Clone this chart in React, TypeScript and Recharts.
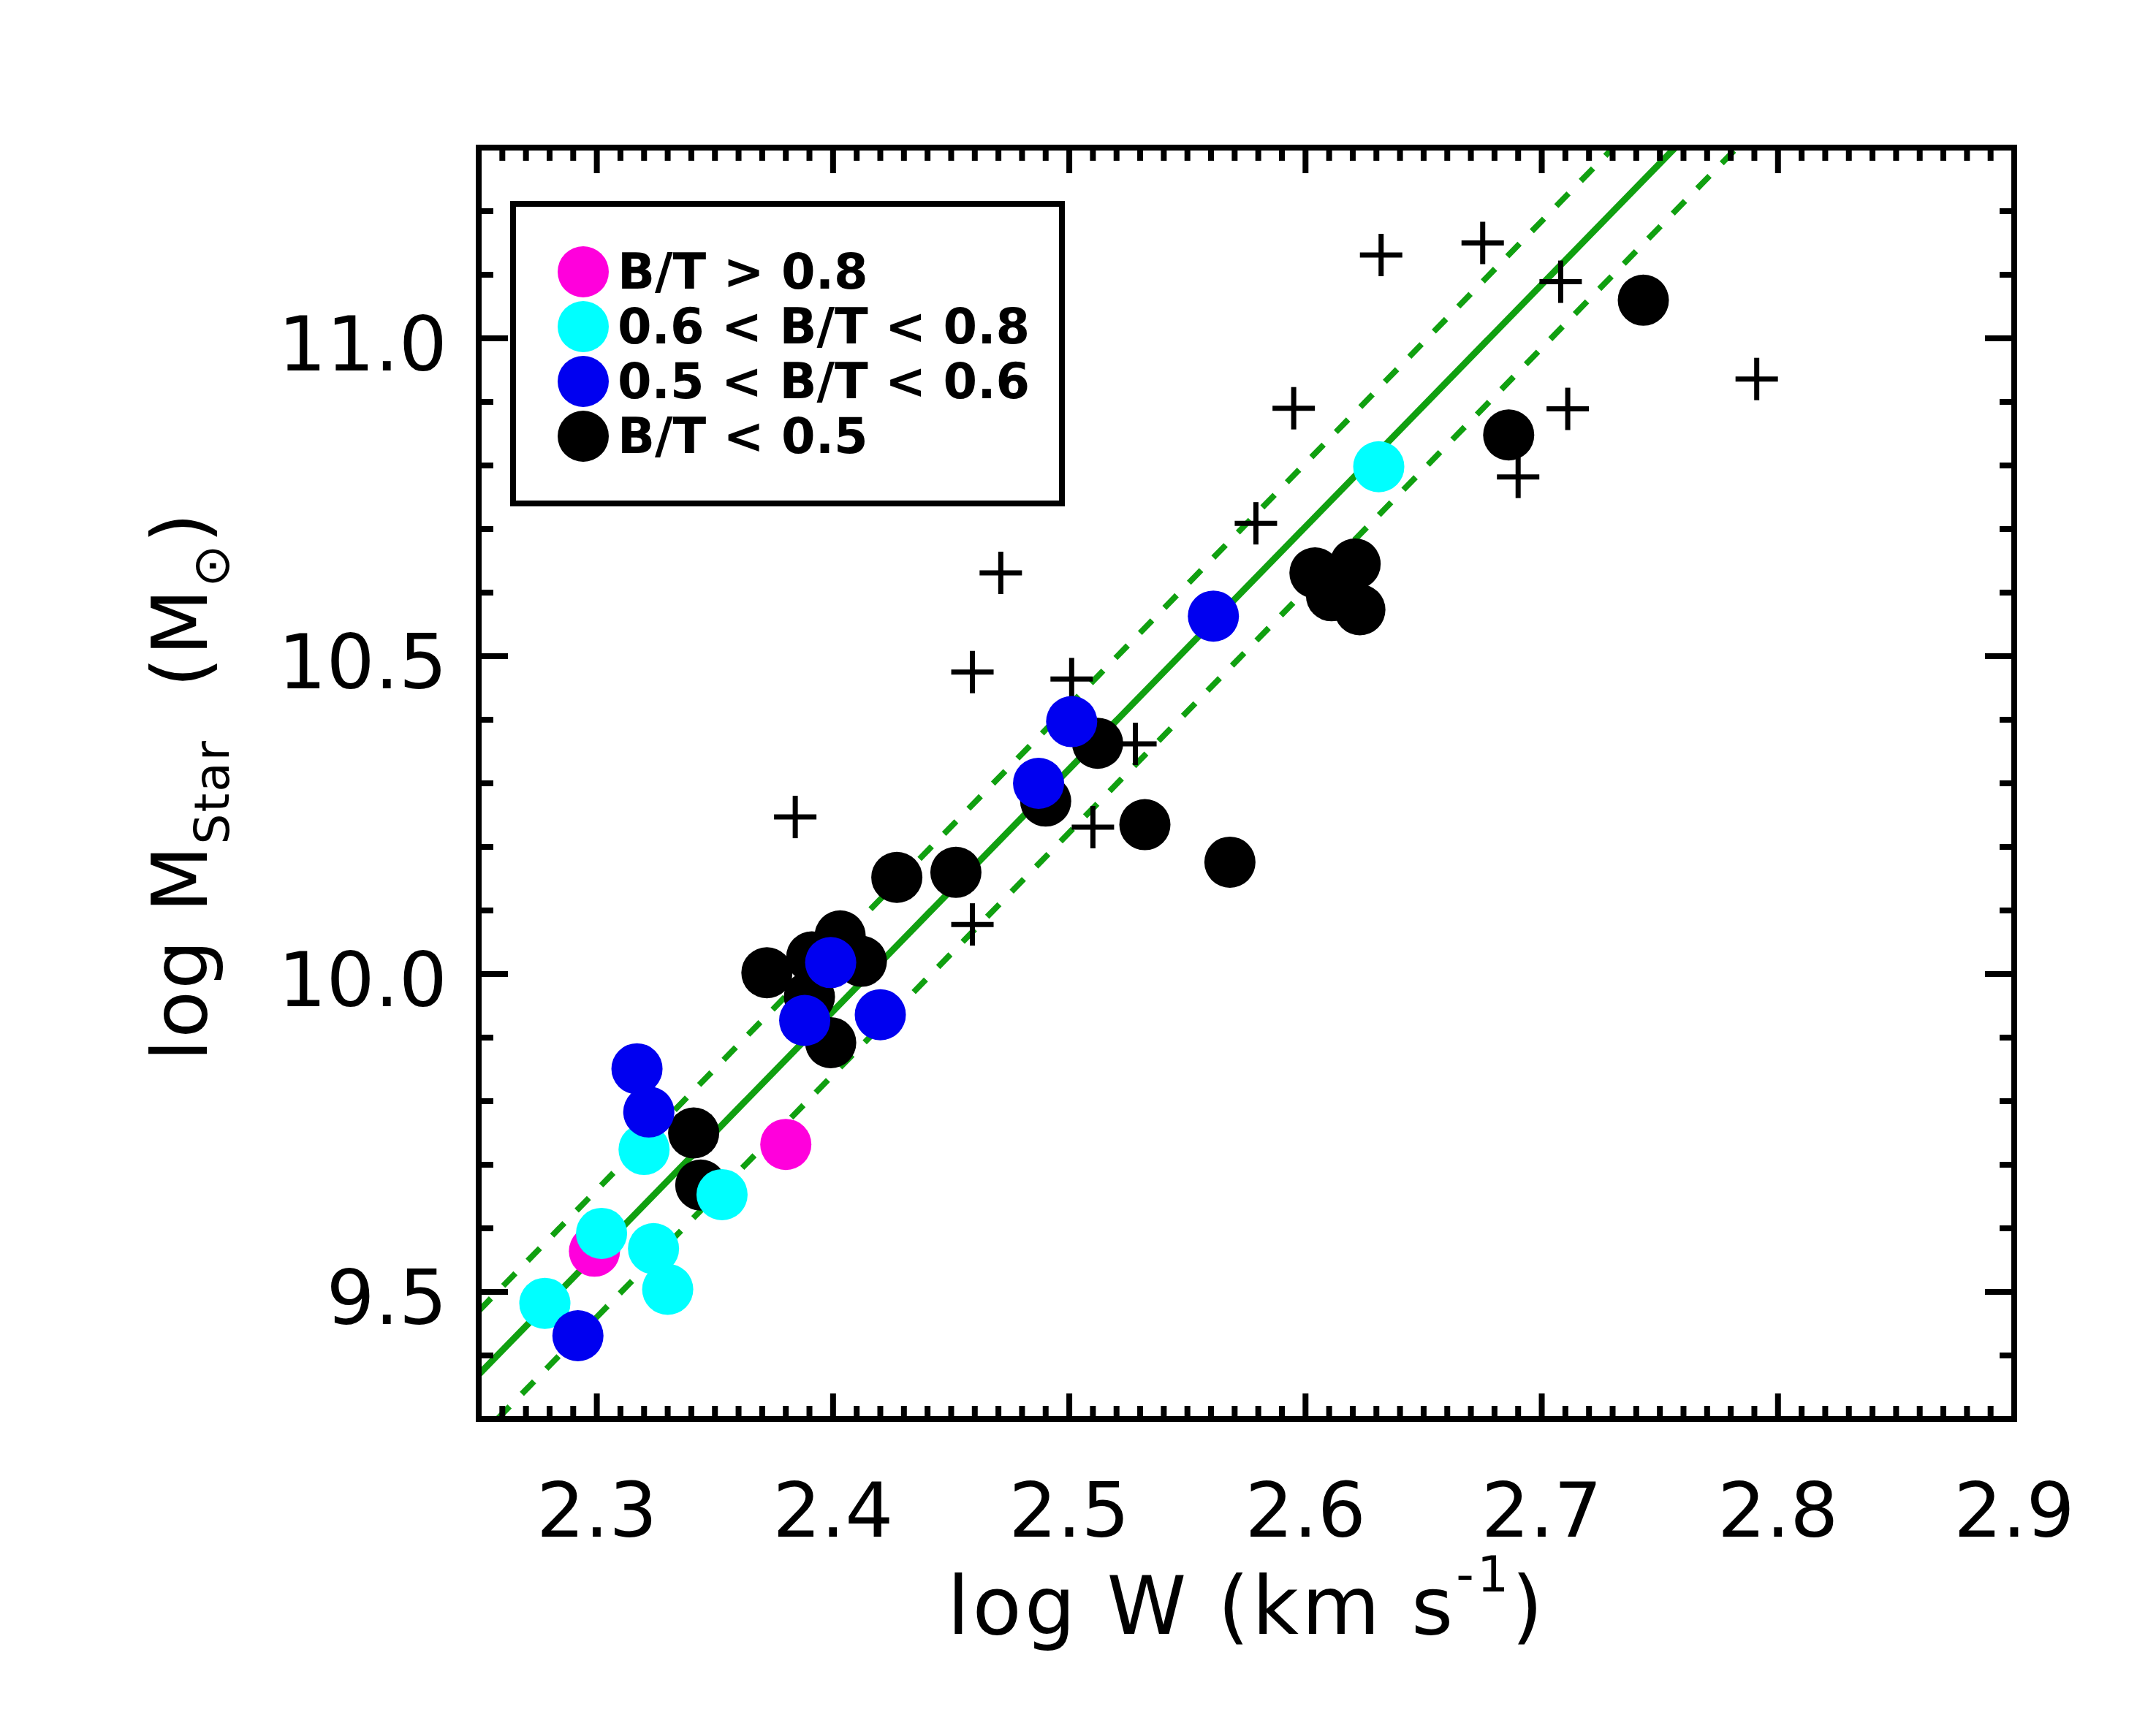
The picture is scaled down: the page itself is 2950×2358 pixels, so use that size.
import React from "react";
import { ScatterChart, Scatter, XAxis, YAxis, ReferenceLine } from "recharts";

// B/T > 0.8
const bulgeHigh = [
  { x: 2.299, y: 9.564 },
  { x: 2.38, y: 9.732 },
];

// 0.6 < B/T < 0.8
const bulgeMid = [
  { x: 2.278, y: 9.482 },
  { x: 2.302, y: 9.592 },
  { x: 2.32, y: 9.724 },
  { x: 2.324, y: 9.568 },
  { x: 2.33, y: 9.504 },
  { x: 2.353, y: 9.653 },
  { x: 2.631, y: 10.798 },
];

// 0.5 < B/T < 0.6
const bulgeLow = [
  { x: 2.292, y: 9.431 },
  { x: 2.317, y: 9.851 },
  { x: 2.322, y: 9.783 },
  { x: 2.388, y: 9.927 },
  { x: 2.399, y: 10.018 },
  { x: 2.42, y: 9.936 },
  { x: 2.487, y: 10.3 },
  { x: 2.501, y: 10.397 },
  { x: 2.561, y: 10.563 },
];

// B/T < 0.5
const diskDominated = [
  { x: 2.341, y: 9.75 },
  { x: 2.344, y: 9.668 },
  { x: 2.372, y: 10.002 },
  { x: 2.391, y: 10.027 },
  { x: 2.403, y: 10.06 },
  { x: 2.412, y: 10.02 },
  { x: 2.39, y: 9.964 },
  { x: 2.399, y: 9.892 },
  { x: 2.427, y: 10.152 },
  { x: 2.452, y: 10.16 },
  { x: 2.49, y: 10.272 },
  { x: 2.512, y: 10.363 },
  { x: 2.532, y: 10.235 },
  { x: 2.568, y: 10.176 },
  { x: 2.604, y: 10.631 },
  { x: 2.621, y: 10.645 },
  { x: 2.611, y: 10.595 },
  { x: 2.623, y: 10.573 },
  { x: 2.686, y: 10.848 },
  { x: 2.743, y: 11.06 },
];

// comparison sample, plotted as crosses
const crossSample = [
  { x: 2.384, y: 10.247 },
  { x: 2.459, y: 10.078 },
  { x: 2.459, y: 10.475 },
  { x: 2.471, y: 10.631 },
  { x: 2.501, y: 10.464 },
  { x: 2.51, y: 10.231 },
  { x: 2.528, y: 10.362 },
  { x: 2.579, y: 10.709 },
  { x: 2.595, y: 10.89 },
  { x: 2.632, y: 11.131 },
  { x: 2.675, y: 11.15 },
  { x: 2.708, y: 11.089 },
  { x: 2.711, y: 10.889 },
  { x: 2.69, y: 10.782 },
  { x: 2.791, y: 10.936 },
];

// fitted relation and its +/- scatter, end points inside the frame
const fitLine = [{ x: 2.25, y: 9.37 }, { x: 2.7565, y: 11.3 }];
const fitUpper = [{ x: 2.25, y: 9.47 }, { x: 2.7303, y: 11.3 }];
const fitLower = [{ x: 2.2579, y: 9.3 }, { x: 2.7827, y: 11.3 }];

const xDomain = [2.25, 2.9];
const yDomain = [9.3, 11.3];
const xMajorTicks = [2.3, 2.4, 2.5, 2.6, 2.7, 2.8, 2.9];
const yMajorTicks = [9.5, 10.0, 10.5, 11.0];

const legendLabels = ["B/T > 0.8", "0.6 < B/T < 0.8", "0.5 < B/T < 0.6", "B/T < 0.5"];
const legendColors = ["#ff00dc", "#00ffff", "#0000f0", "#000000"];

const FONT = "DejaVu Sans";
const GREEN = "#10a010";
const R = 35;

const xMinorTicks: number[] = [];
for (let i = 0; i <= 65; i++) xMinorTicks.push(Number((2.25 + i * 0.01).toFixed(2)));
const yMinorTicks: number[] = [];
for (let i = 0; i <= 20; i++) yMinorTicks.push(Number((9.3 + i * 0.1).toFixed(1)));

const isMajor = (v: number, list: number[]) => list.some((m) => Math.abs(m - v) < 1e-6);

const BottomTick = (p: any) => {
  const v = p.payload.value;
  const major = isMajor(v, xMajorTicks);
  return (
    <g>
      <line x1={p.x} x2={p.x} y1={p.y} y2={p.y - (major ? 35 : 18)} stroke="#000" strokeWidth={8} />
      {major && (
        <text x={p.x} y={p.y + 161} textAnchor="middle" fontSize={104} fontFamily={FONT} fill="#000">
          {v.toFixed(1)}
        </text>
      )}
    </g>
  );
};

const TopTick = (p: any) => {
  const major = isMajor(p.payload.value, xMajorTicks);
  return <line x1={p.x} x2={p.x} y1={p.y} y2={p.y + (major ? 35 : 18)} stroke="#000" strokeWidth={8} />;
};

const LeftTick = (p: any) => {
  const v = p.payload.value;
  const major = isMajor(v, yMajorTicks);
  return (
    <g>
      <line x1={p.x} x2={p.x + (major ? 40 : 20)} y1={p.y} y2={p.y} stroke="#000" strokeWidth={8} />
      {major && (
        <text x={p.x - 43} y={p.y + 44} textAnchor="end" fontSize={104} fontFamily={FONT} fill="#000">
          {v.toFixed(1)}
        </text>
      )}
    </g>
  );
};

const RightTick = (p: any) => {
  const major = isMajor(p.payload.value, yMajorTicks);
  return <line x1={p.x} x2={p.x - (major ? 40 : 20)} y1={p.y} y2={p.y} stroke="#000" strokeWidth={8} />;
};

const XTitle = (p: any) => {
  const vb = p.viewBox || { x: 655, y: 1942, width: 2101 };
  return (
    <text
      x={vb.x + vb.width / 2}
      y={1942 + 294}
      textAnchor="middle"
      fontSize={110}
      letterSpacing={4}
      fontFamily={FONT}
      fill="#000"
    >
      log W (km s
      <tspan dy={-58} fontSize={68}>-1</tspan>
      <tspan dy={58}>)</tspan>
    </text>
  );
};

const YTitle = (p: any) => {
  const vb = p.viewBox || { y: 202, height: 1740 };
  const cy = vb.y + vb.height / 2 + 4;
  return (
    <text
      transform={`translate(283, ${cy}) rotate(-90)`}
      textAnchor="middle"
      fontSize={106}
      letterSpacing={2}
      fontFamily={FONT}
      fill="#000"
    >
      log M
      <tspan dy={30} fontSize={66}>Star</tspan>
      <tspan dy={-30}>{"\u00a0\u00a0(M"}</tspan>
      <tspan dy={30} fontSize={70}>{"\u2299"}</tspan>
      <tspan dy={-30}>)</tspan>
    </text>
  );
};

const dot = (fill: string) => (p: any) => <circle cx={p.cx} cy={p.cy} r={R} fill={fill} />;

const cross = (p: any) => (
  <g stroke="#000" strokeWidth={7}>
    <line x1={p.cx - 29} x2={p.cx + 29} y1={p.cy} y2={p.cy} />
    <line x1={p.cx} x2={p.cx} y1={p.cy - 29} y2={p.cy + 29} />
  </g>
);

const frame = { stroke: "#000", strokeWidth: 8, strokeLinecap: "square" as const };

function LegendBox() {
  return (
    <svg width={770} height={430} style={{ position: "absolute", left: 698, top: 275 }}>
      <rect x={4} y={4} width={751} height={410} fill="#fff" stroke="#000" strokeWidth={8} />
      {legendLabels.map((label, i) => (
        <g key={label}>
          <circle cx={100} cy={97 + i * 75} r={R} fill={legendColors[i]} />
          <text x={147} y={120 + i * 75} fontSize={67} fontWeight="bold" fontFamily={FONT} fill="#000">
            {label}
          </text>
        </g>
      ))}
    </svg>
  );
}

export default function App() {
  return (
    <div style={{ position: "absolute", left: 0, top: 0, width: 2950, height: 2358, background: "#fff" }}>
      <ScatterChart width={2950} height={2358} margin={{ top: 201, right: 193, bottom: 415, left: 654 }}>
        <XAxis
          xAxisId="b"
          dataKey="x"
          type="number"
          domain={xDomain}
          allowDataOverflow
          ticks={xMinorTicks}
          interval={0}
          height={1}
          tickSize={0}
          tickMargin={0}
          tickLine={false}
          axisLine={frame}
          tick={BottomTick}
          label={{ content: XTitle }}
        />
        <XAxis
          xAxisId="t"
          orientation="top"
          dataKey="x"
          type="number"
          domain={xDomain}
          allowDataOverflow
          ticks={xMinorTicks}
          interval={0}
          height={1}
          tickSize={0}
          tickMargin={0}
          tickLine={false}
          axisLine={frame}
          tick={TopTick}
        />
        <YAxis
          yAxisId="l"
          dataKey="y"
          type="number"
          domain={yDomain}
          allowDataOverflow
          ticks={yMinorTicks}
          interval={0}
          width={1}
          tickSize={0}
          tickMargin={0}
          tickLine={false}
          axisLine={frame}
          tick={LeftTick}
          label={{ content: YTitle }}
        />
        <YAxis
          yAxisId="r"
          orientation="right"
          dataKey="y"
          type="number"
          domain={yDomain}
          allowDataOverflow
          ticks={yMinorTicks}
          interval={0}
          width={1}
          tickSize={0}
          tickMargin={0}
          tickLine={false}
          axisLine={frame}
          tick={RightTick}
        />
        <Scatter xAxisId="t" yAxisId="r" data={crossSample} shape={cross} isAnimationActive={false} />
        <Scatter xAxisId="b" yAxisId="l" data={diskDominated} shape={dot("#000000")} isAnimationActive={false} />
        <Scatter xAxisId="b" yAxisId="l" data={bulgeHigh} shape={dot("#ff00dc")} isAnimationActive={false} />
        <Scatter xAxisId="b" yAxisId="l" data={bulgeMid} shape={dot("#00ffff")} isAnimationActive={false} />
        <Scatter xAxisId="b" yAxisId="l" data={bulgeLow} shape={dot("#0000f0")} isAnimationActive={false} />
        <ReferenceLine xAxisId="b" yAxisId="l" segment={fitLine} stroke={GREEN} strokeWidth={9} ifOverflow="visible" />
        <ReferenceLine xAxisId="b" yAxisId="l" segment={fitUpper} stroke={GREEN} strokeWidth={8} strokeDasharray="24 24" ifOverflow="visible" />
        <ReferenceLine xAxisId="b" yAxisId="l" segment={fitLower} stroke={GREEN} strokeWidth={8} strokeDasharray="24 24" ifOverflow="visible" />
      </ScatterChart>
      <LegendBox />
    </div>
  );
}
